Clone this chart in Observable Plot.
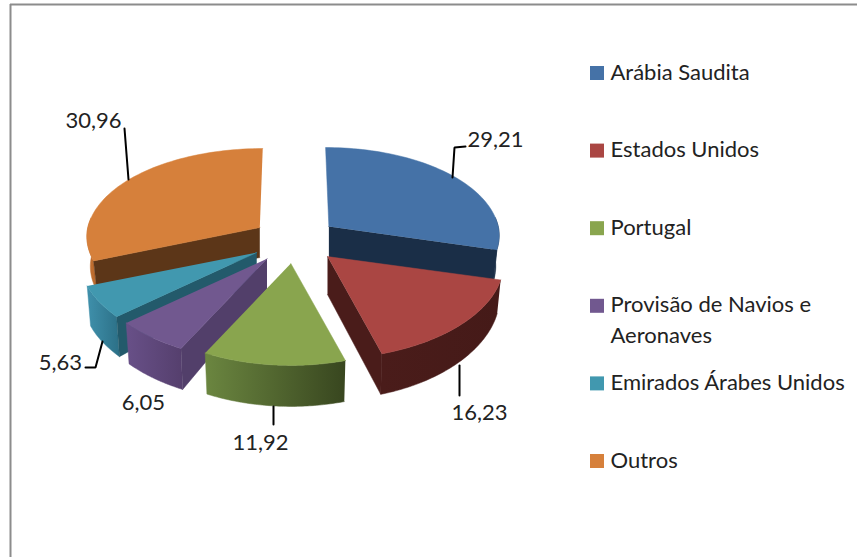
<!DOCTYPE html>
<html>
<head>
<meta charset="utf-8">
<script src="https://cdn.jsdelivr.net/npm/d3@7"></script>
<script src="https://cdn.jsdelivr.net/npm/@observablehq/plot@0.6"></script>
<style>html,body{margin:0;padding:0;background:#fff;overflow:hidden}svg{display:block}</style>
</head>
<body>
<div id="chart"></div>
<script>
// ---- data ----
const categories = ["Arábia Saudita","Estados Unidos","Portugal","Provisão de Navios e Aeronaves","Emirados Árabes Unidos","Outros"];
const values = [29.21,16.23,11.92,6.05,5.63,30.96];
const valueLabels = ["29,21","16,23","11,92","6,05","5,63","30,96"];
const legendLines = [["Arábia Saudita"],["Estados Unidos"],["Portugal"],["Provisão de Navios e","Aeronaves"],["Emirados Árabes Unidos"],["Outros"]];
const colors = ["#4572a7","#aa4643","#89a54e","#71588f","#4198af","#d6803b"];

// ---- style & layout ----
const rimFill = [
  ["#1a2f47","#1a2f47"],["#4a1c1a","#451a18"],["#6b8640","#38461f"],
  ["#685088","#553f6d"],["#3f90ab","#2c7087"],["#c47232","#b8682c"]
];
const sideFill = ["#1a2e47","#4a1c1a","#3a4a20","#523f6a","#235a6b","#5c3618"];
const rimDepth = [v=>31, v=>31+10*v, v=>41, v=>41, v=>40, v=>30];
const apexDepth = [31,38,41,30,28,30];
const apexNudge = [3,5,2,0,0,2];
const rimScale = [0.985,1.015,1.02,1.025,1.02,1];
const drawOrder = [5,0,4,3,2,1];
const W = 857, H = 557;
const cx = 292, cy = 240, ex = 42, ey = 23;
const font = "Lato, 'Open Sans', sans-serif";
const fs = 22;

const rad = d => d * Math.PI / 180;
const total = d3.sum(values);
const ends = Array.from(d3.cumsum(values), c => c / total * 360);
const starts = ends.map((_, i) => i ? ends[i-1] : 0);
const dir = t => ({u: Math.sin(rad(t)), v: -Math.cos(rad(t))});

const apex = i => {
  const m = dir((starts[i]+ends[i])/2);
  return {x: cx + ex*m.u + apexNudge[i], y: cy + ey*m.v};
};
const rimPt = (i, t, drop) => {
  const {u,v} = dir(t), a = apex(i);
  const dy = v > 0 ? v*(85+17*v) : v*(90+11*v);
  let dx = u*(172+18*v)*rimScale[i];
  if (v < 0) dx += (a.x-cx)*0.09*v;   // the back of the pie converges toward the middle
  const d = drop ? rimDepth[i](v) : 0;
  return {x: a.x + dx*(drop ? 0.98 : 1), y: a.y + dy + d};
};
const arcAngles = i => d3.range(0,61).map(k => starts[i] + (ends[i]-starts[i])*k/60);

const polygon = pts => pts.map(p => ({x:p.x, y:p.y}));
const line = (pts, fill) => Plot.line(pts, {x:"x", y:"y", fill, stroke:fill, strokeWidth:0.5, curve:"linear"});

const sliceMarks = drawOrder.flatMap(i => {
  const a = apex(i), ts = arcAngles(i);
  const front = ts.filter(t => dir(t).v > -0.12);   // only the part of the rim that faces the viewer
  const aB = {x:a.x, y:a.y+apexDepth[i]};
  const marks = [];
  marks.push(line(polygon([...front.map(t=>rimPt(i,t,false)), ...front.slice().reverse().map(t=>rimPt(i,t,true))]), `url(#rim${i})`));
  if (dir(starts[i]-90).v > 0.01)
    marks.push(line(polygon([a, rimPt(i,starts[i],false), rimPt(i,starts[i],true), aB]), sideFill[i]));
  if (dir(ends[i]+90).v > 0.01)
    marks.push(line(polygon([a, rimPt(i,ends[i],false), rimPt(i,ends[i],true), aB]), sideFill[i]));
  marks.push(line(polygon([a, ...ts.map(t=>rimPt(i,t,false))]), colors[i]));
  return marks;
});

const gradients = () => {
  const defs = d3.create("svg:defs");
  rimFill.forEach((c,i) => {
    const g = defs.append("linearGradient").attr("id",`rim${i}`);
    g.append("stop").attr("offset","0%").attr("stop-color",c[0]);
    g.append("stop").attr("offset","100%").attr("stop-color",c[1]);
  });
  return defs.node();
};

// leader lines and value labels
const leaders = [
  [[452,177],[454,147],[465,146]],
  [[459,365],[459,395]],
  [[273,406],[273,424]],
  [],
  [[102,341],[95,367],[85,367]],
  [[128,179],[124,128]]
];
const labelAt = [[495,139],[479,412],[260,442],[143,402],[60,362],[93,120]];
const labelData = valueLabels.map((t,i)=>({t, x:labelAt[i][0], y:labelAt[i][1]}));
const leaderData = leaders.flatMap((l,i)=>l.map(p=>({i,x:p[0],y:p[1]})));

// legend
const rowY = i => 73 + 77.6*i;
const swatches = categories.map((c,i)=>({c, fill:colors[i], x1:590, x2:604, y1:rowY(i)-7, y2:rowY(i)+7}));
const legendText = legendLines.flatMap((ls,i)=>ls.map((t,j)=>({t, x:610, y:rowY(i)-1+j*31})));

const chart = Plot.plot({
  width: W, height: H,
  margin: 0, marginTop:0, marginRight:0, marginBottom:0, marginLeft:0,
  x: {domain:[0,W], range:[0,W], axis:null},
  y: {domain:[0,H], range:[0,H], axis:null},
  style: {background:"#fff"},
  marks: [
    gradients,
    Plot.ruleY([4], {stroke:"#8c8c8c", strokeWidth:2, x1:10, x2:W}),
    Plot.ruleX([10], {stroke:"#8c8c8c", strokeWidth:2, y1:4, y2:H}),
    ...sliceMarks,
    Plot.line(leaderData, {x:"x", y:"y", z:"i", stroke:"#000", strokeWidth:2, curve:"linear", strokeLinejoin:"miter"}),
    Plot.text(labelData, {x:"x", y:"y", text:"t", fontSize:fs, fontFamily:font, fill:"#222"}),
    Plot.rect(swatches, {x1:"x1", x2:"x2", y1:"y1", y2:"y2", fill:"fill"}),
    Plot.text(legendText, {x:"x", y:"y", text:"t", textAnchor:"start", fontSize:fs, fontFamily:font, fill:"#222"})
  ]
});
document.getElementById("chart").appendChild(chart);
</script>
</body>
</html>
